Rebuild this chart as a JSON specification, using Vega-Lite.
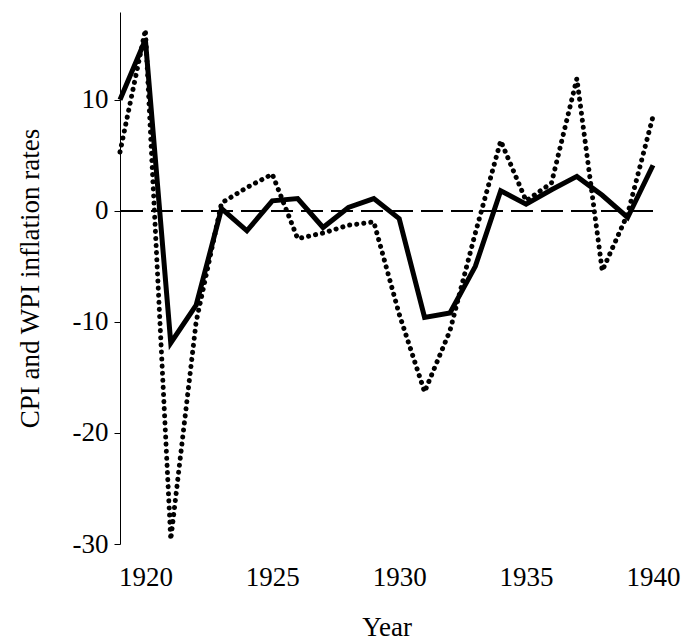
{"$schema":"https://vega.github.io/schema/vega-lite/v6.json","width":533,"height":532,"autosize":"none","padding":{"left":120,"top":12,"right":35,"bottom":99},"background":"white","config":{"view":{"stroke":null},"font":"Liberation Serif","axis":{"labelFont":"Liberation Serif","titleFont":"Liberation Serif","labelFontSize":27,"titleFontSize":27,"titleFontWeight":"normal","labelColor":"black","titleColor":"black","grid":false,"domainColor":"black","tickColor":"black","labelFlush":false}},
"data":{"values":[
{"year":1919,"s":"CPI","v":10},{"year":1920,"s":"CPI","v":15.4},{"year":1921,"s":"CPI","v":-11.9},{"year":1922,"s":"CPI","v":-8.5},{"year":1923,"s":"CPI","v":0.2},{"year":1924,"s":"CPI","v":-1.8},{"year":1925,"s":"CPI","v":0.9},{"year":1926,"s":"CPI","v":1.1},{"year":1927,"s":"CPI","v":-1.5},{"year":1928,"s":"CPI","v":0.3},{"year":1929,"s":"CPI","v":1.1},{"year":1930,"s":"CPI","v":-0.7},{"year":1931,"s":"CPI","v":-9.6},{"year":1932,"s":"CPI","v":-9.2},{"year":1933,"s":"CPI","v":-5},{"year":1934,"s":"CPI","v":1.8},{"year":1935,"s":"CPI","v":0.6},{"year":1936,"s":"CPI","v":1.9},{"year":1937,"s":"CPI","v":3.1},{"year":1938,"s":"CPI","v":1.4},{"year":1939,"s":"CPI","v":-0.6},{"year":1940,"s":"CPI","v":4.1},
{"year":1919,"s":"WPI","v":5.3},{"year":1920,"s":"WPI","v":16.3},{"year":1921,"s":"WPI","v":-29.6},{"year":1922,"s":"WPI","v":-10},{"year":1923,"s":"WPI","v":0.7},{"year":1924,"s":"WPI","v":2.1},{"year":1925,"s":"WPI","v":3.3},{"year":1926,"s":"WPI","v":-2.5},{"year":1927,"s":"WPI","v":-2},{"year":1928,"s":"WPI","v":-1.3},{"year":1929,"s":"WPI","v":-1.0},{"year":1930,"s":"WPI","v":-9.3},{"year":1931,"s":"WPI","v":-16.3},{"year":1932,"s":"WPI","v":-10.8},{"year":1933,"s":"WPI","v":-2},{"year":1934,"s":"WPI","v":6.3},{"year":1935,"s":"WPI","v":0.9},{"year":1936,"s":"WPI","v":2.5},{"year":1937,"s":"WPI","v":11.9},{"year":1938,"s":"WPI","v":-5.4},{"year":1939,"s":"WPI","v":-0.3},{"year":1940,"s":"WPI","v":8.5}
]},
"layer":[
{"mark":{"type":"rule","strokeDash":[22,8],"strokeWidth":1.2,"color":"black"},"encoding":{"y":{"datum":0}}},
{"transform":[{"filter":"datum.s=='WPI'"}],"mark":{"type":"line","strokeDash":[0.1,7],"strokeCap":"round","strokeWidth":5,"color":"black"},"encoding":{"x":{"field":"year","type":"quantitative"},"y":{"field":"v","type":"quantitative"}}},
{"transform":[{"filter":"datum.s=='CPI'"}],"mark":{"type":"line","strokeWidth":5,"color":"black"},
"encoding":{"x":{"field":"year","type":"quantitative","scale":{"domain":[1919,1940],"nice":false,"zero":false},"axis":{"title":"Year","values":[1920,1925,1930,1935,1940],"format":"d","domain":false,"ticks":false,"labelPadding":20,"titlePadding":24}},
"y":{"field":"v","type":"quantitative","scale":{"domain":[-30,17.9],"nice":false},"axis":{"title":"CPI and WPI inflation rates","values":[-30,-20,-10,0,10],"labelExpr":"replace(format(datum.value,'d'),'−','-')","tickSize":6,"labelPadding":6,"titlePadding":28}}}}
]}
